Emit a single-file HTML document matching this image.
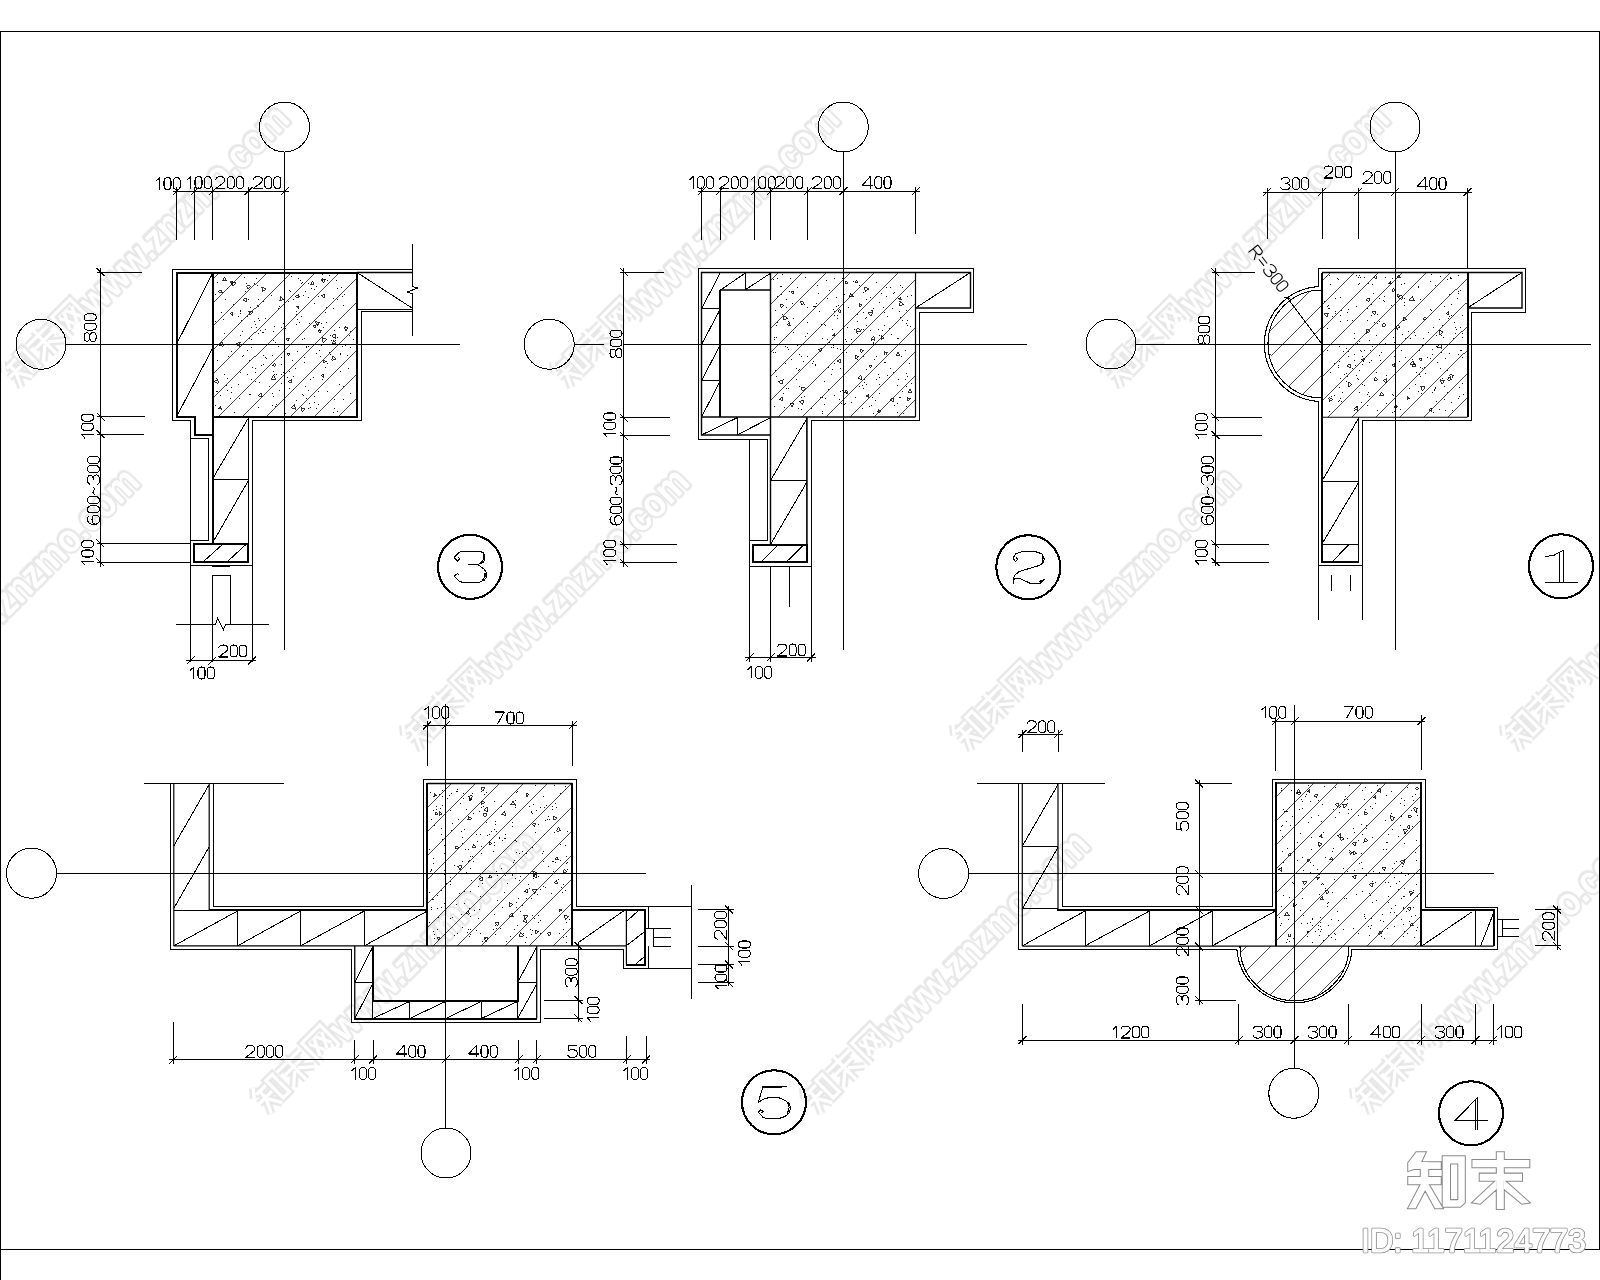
<!DOCTYPE html><html><head><meta charset="utf-8"><title>detail</title><style>html,body{margin:0;padding:0;background:#fff}svg{display:block}</style></head><body><svg width="1600" height="1280" viewBox="0 0 1600 1280">
<defs><path id="g48" d="M0 3.4C0 -1.13 7 -1.13 7 3.4L7 8.6C7 13.13 0 13.13 0 8.6Z"/><path id="g49" d="M0.3 3.6L4.3 0L4.3 12"/><path id="g50" d="M0.2 3.4C0.2 -1.1 9.3 -1.1 9.3 3.3C9.3 4.8 8.4 5.8 6.5 7.2L0 12L9.5 12"/><path id="g51" d="M0.3 2.6C1.3 -0.9 9.2 -0.9 9.2 3C9.2 4.9 7.5 5.8 4.5 5.8C7.8 5.8 9.6 7 9.6 8.9C9.6 13.1 0.8 13 0 9.6"/><path id="g52" d="M7.6 12L7.6 0L0 8.6L10.4 8.6"/><path id="g53" d="M8.8 0L1.2 0L0.5 5.4C3.5 3.3 9.6 4 9.6 8C9.6 13.2 1 13.2 0 9.6"/><path id="g54" d="M8.6 1.6C5.5 -1.8 0 0.6 0 6.4C0 14 9.4 13.5 9.4 8.2C9.4 3.4 1.2 3.4 0.1 8"/><path id="g55" d="M0 0L9.2 0L2.6 12"/><path id="g56" d="M4.75 5.6C-0.9 5.6 -0.9 0 4.75 0C10.4 0 10.4 5.6 4.75 5.6C-1.6 5.6 -1.6 12 4.75 12C11.1 12 11.1 5.6 4.75 5.6"/><path id="g126" d="M0 7.4C1.4 5.2 2.8 5.2 4 6.3C5.2 7.4 6.6 7.4 8 5.2"/><path id="g82" d="M0 12L0 0L5.5 0C10.2 0 10.2 6 5.5 6L0 6M5 6L9.5 12"/><path id="g61" d="M0 4L8.5 4M0 8L8.5 8"/></defs>
<defs><path id="zhi" d="M22 1L1.4 27M14 23.4L57 23.4M0 50L57 50M28.6 24L28.6 50L5.7 98.6M31.4 58.6L54.3 98.6M67 13.4L93.7 13.4L93.7 90L67 90Z"/><path id="mo" d="M0 20L100 20M12.9 43.7L87 43.7M49 0L49 100M43 55.7L4.3 88.6M55.7 55.7L95.7 88.6"/><path id="wang" d="M10 98L10 10L90 10L90 92L80 97M24 30L46 74M46 30L22 78M56 30L78 74M78 30L54 78"/></defs>
<rect width="1600" height="1280" fill="#fff"/>
<defs><filter id="soft" x="-5%" y="-50%" width="110%" height="200%"><feGaussianBlur stdDeviation="0.7"/></filter><g id="wm" opacity="0.999"><g filter="url(#soft)"><use href="#zhi" transform="translate(1.5 -30.1) scale(0.32)" fill="none" stroke="#e7e7e7" stroke-width="26" stroke-linejoin="miter"/><use href="#mo" transform="translate(36.5 -30.1) scale(0.32)" fill="none" stroke="#e7e7e7" stroke-width="26" stroke-linejoin="miter"/><use href="#wang" transform="translate(71.5 -30.1) scale(0.32)" fill="none" stroke="#e7e7e7" stroke-width="26" stroke-linejoin="miter"/><text x="105" y="4" font-family="Liberation Sans, sans-serif" font-weight="bold" font-size="40" fill="#e7e7e7" stroke="#e7e7e7" stroke-width="4.8" stroke-linejoin="round" textLength="278" lengthAdjust="spacingAndGlyphs">www.znzmo.com</text></g><use href="#zhi" transform="translate(1.5 -30.1) scale(0.32)" fill="none" stroke="#fff" stroke-width="10.5" stroke-linejoin="miter"/><use href="#mo" transform="translate(36.5 -30.1) scale(0.32)" fill="none" stroke="#fff" stroke-width="10.5" stroke-linejoin="miter"/><use href="#wang" transform="translate(71.5 -30.1) scale(0.32)" fill="none" stroke="#fff" stroke-width="10.5" stroke-linejoin="miter"/><text x="105" y="4" font-family="Liberation Sans, sans-serif" font-weight="bold" font-size="40" fill="#fff" textLength="278" lengthAdjust="spacingAndGlyphs">www.znzmo.com</text></g></defs>
<use href="#wm" transform="translate(18 389) rotate(-45)"/>
<use href="#wm" transform="translate(568 389) rotate(-45)"/>
<use href="#wm" transform="translate(1118 389) rotate(-45)"/>
<use href="#wm" transform="translate(-132 752) rotate(-45)"/>
<use href="#wm" transform="translate(418 752) rotate(-45)"/>
<use href="#wm" transform="translate(968 752) rotate(-45)"/>
<use href="#wm" transform="translate(1518 752) rotate(-45)"/>
<use href="#wm" transform="translate(268 1115) rotate(-45)"/>
<use href="#wm" transform="translate(818 1115) rotate(-45)"/>
<use href="#wm" transform="translate(1368 1115) rotate(-45)"/>
<g fill="none" stroke="#000" stroke-width="1" shape-rendering="crispEdges">
<path d="M0.5 1280L0.5 31.5L1599 31.5L1599 1249.5L0 1249.5" stroke-width="1"/>
<path d="M284.5 152L284.5 650" stroke-width="1"/>
<path d="M66 344.25L460 344.25" stroke-width="1"/>
<circle cx="284.5" cy="127" r="25" stroke-width="1"/>
<circle cx="41" cy="344.25" r="25" stroke-width="1"/>
<path d="M212.5 278.2L218.2 272.5M212.5 302.2L242.2 272.5M212.5 326.2L266.2 272.5M212.5 350.2L290.2 272.5M212.5 374.2L314.2 272.5M212.5 398.2L338.2 272.5M217.95 416.75L357 277.7M241.95 416.75L357 301.7M265.95 416.75L357 325.7M289.95 416.75L357 349.7M313.95 416.75L357 373.7M337.95 416.75L357 397.7" stroke-width="0.7"/>
<path d="M247 350.5h1M266 358.5h1M301 283.5h1M216 391.5h1M250 307.5h1M353 339.5h1M331 340.5h1M303 295.5h1M303 395.5h1M287 377.5h1M308 283.5h1M320 356.5h1M256 278.5h1M335 340.5h1M314 396.5h1M314 402.5h1M269 386.5h1M276 404.5h1M337 288.5h1M233 304.5h1M349 335.5h1M301 316.5h1M285 328.5h1M263 355.5h1M296 400.5h1M309 403.5h1M333 412.5h1M308 297.5h1M334 408.5h1M340 353.5h1M314 303.5h1M330 354.5h1M254 283.5h1M333 412.5h1M226 385.5h1M271 295.5h1M255 381.5h1M336 280.5h1M300 280.5h1M314 320.5h1M337 411.5h1M285 413.5h1M257 285.5h1M298 278.5h1M242 331.5h1M299 296.5h1M220 395.5h1M258 407.5h1M339 327.5h1M278 346.5h1M304 357.5h1M292 360.5h1M345 345.5h1M274 374.5h1M247 316.5h1M350 347.5h1M291 276.5h1M272 355.5h1M217 360.5h1M302 282.5h1M302 339.5h1M309 323.5h1M313 377.5h1M217 282.5h1M308 408.5h1M249 338.5h1M297 319.5h1M265 318.5h1M265 357.5h1M256 327.5h1M322 278.5h1M293 376.5h1M257 305.5h1M326 307.5h1M240 335.5h1M311 288.5h1M259 320.5h1M330 335.5h1M333 298.5h1M261 365.5h1M337 337.5h1M245 291.5h1M288 301.5h1M327 391.5h1M240 313.5h1M327 363.5h1M326 322.5h1M232 315.5h1M325 312.5h1M262 332.5h1M273 331.5h1M342 296.5h1M215 405.5h1M337 411.5h1M275 406.5h1M343 305.5h1M318 391.5h1M306 346.5h1M254 321.5h1M246 283.5h1M296 314.5h1M327 280.5h1M340 371.5h1M343 399.5h1M340 354.5h1M216 378.5h1M238 316.5h1M306 347.5h1M272 405.5h1M299 322.5h1M249 394.5h1M281 383.5h1M263 301.5h1M289 388.5h1M238 384.5h1M343 386.5h1M329 275.5h1M302 394.5h1M221 312.5h1M251 347.5h1M273 340.5h1M322 274.5h1M222 292.5h1M231 284.5h1M350 393.5h1M226 344.5h1M258 318.5h1M263 364.5h1M296 324.5h1M241 320.5h1M231 351.5h1M314 327.5h1M225 299.5h1M266 358.5h1M323 327.5h1M326 361.5h1M274 326.5h1M283 372.5h1M273 371.5h1M278 308.5h1M289 371.5h1M224 333.5h1M273 396.5h1M345 326.5h1M339 384.5h1M251 339.5h1M231 387.5h1M306 398.5h1M325 367.5h1M316 353.5h1M228 356.5h1M215 294.5h1M322 280.5h1M227 288.5h1M337 299.5h1M217 391.5h1M231 392.5h1M308 390.5h1M347 355.5h1M325 279.5h1M321 345.5h1M314 289.5h1M318 404.5h1M223 319.5h1M293 389.5h1M248 299.5h1M249 360.5h1M319 329.5h1M265 329.5h1M263 332.5h1M226 344.5h1M350 331.5h1M318 296.5h1M310 379.5h1M308 346.5h1M281 364.5h1M339 295.5h1M227 378.5h1M342 346.5h1M276 374.5h1M240 311.5h1M242 356.5h1M258 306.5h1M310 407.5h1M255 372.5h1M272 393.5h1M296 311.5h1M244 277.5h1M281 327.5h1M238 324.5h1M259 382.5h1M234 412.5h1M281 357.5h1M279 390.5h1M329 352.5h1M281 374.5h1M334 330.5h1M316 408.5h1M279 306.5h1M247 374.5h1M308 408.5h1M333 308.5h1M240 310.5h1M240 372.5h1M334 399.5h1M250 394.5h1M258 333.5h1M316 286.5h1M227 390.5h1M255 324.5h1M295 368.5h1M215 321.5h1M275 342.5h1M243 355.5h1M347 328.5h1M290 291.5h1M252 367.5h1M230 398.5h1M341 287.5h1M345 326.5h1M322 379.5h1M255 368.5h1M305 386.5h1M251 379.5h1M348 368.5h1M289 290.5h1M283 323.5h1M314 368.5h1M293 299.5h1M304 362.5h1M239 398.5h1M305 291.5h1M344 294.5h1M260 374.5h1M297 351.5h1M304 338.5h1M258 299.5h1M224 374.5h1M319 350.5h1M317 324.5h1M251 327.5h1M336 280.5h1M284 308.5h1M321 323.5h1M260 330.5h1" stroke-width="1" stroke="#111" shape-rendering="crispEdges"/>
<path d="M291.57 379.98L291.28 383.47L288.4 381.48ZM233.11 314.47L230.18 313.93L232.12 311.66ZM323.51 377.28L321.03 375.34L323.95 374.16ZM273.35 375.2L275.62 379.04L271.15 379.09ZM298.02 298.41L295.25 296.11L298.62 294.86ZM288.52 355.78L286.92 353.02L290.11 353.02ZM325.18 278.97L323.61 283.13L320.8 279.7ZM344.12 327.58L348.04 327.56L346.09 330.97ZM302.25 411.92L301.36 407.82L305.36 409.1ZM333.55 340.16L336.05 343.31L332.07 343.9ZM214.43 381.6L217.91 379.34L218.13 383.48ZM286.18 338.91L289.17 337.85L288.59 340.97ZM219.33 345.5L221.96 342.35L223.38 346.21ZM295.52 409.18L291.14 407.69L294.62 404.64ZM323.6 362.7L324.08 359.87L326.3 361.69ZM250.39 286.14L248.18 289.34L246.51 285.83ZM262.22 396.93L258.22 395.6L261.37 392.8ZM333.07 355.75L336.24 359.22L331.65 360.23ZM319.8 322.24L317.24 325.87L315.37 321.83ZM331.59 336.28L335.13 333.76L335.55 338.09ZM231.92 283.93L229.74 281.96L232.53 281.06ZM236.08 343.67L240.13 342.46L239.15 346.57ZM272.2 365.4L274.7 363.08L275.46 366.4ZM321.31 330.12L320.05 333L318.18 330.47ZM312.73 326.12L316.06 324.94L315.42 328.42ZM298.33 308.55L296.37 306.58L299.06 305.87ZM324.13 298.07L321.29 295.67L324.79 294.41ZM246.09 301.58L242.98 299.75L246.13 297.97ZM218.45 291.61L221.05 289.88L221.25 293ZM222.86 280.73L224.53 277.42L226.56 280.52ZM310.86 284.73L312.25 281.4L314.44 284.27ZM221.69 409.09L218.47 408.87L220.27 406.19ZM279.95 300.88L280.27 296.83L283.62 299.14ZM233.03 286.01L231.5 282.02L235.73 282.68ZM323.19 342.5L322.22 337.89L326.7 339.35ZM248.84 310.85L253.13 312.11L249.9 315.19ZM265.93 288.8L262.78 291.56L261.96 287.45Z" stroke-width="0.8"/>
<path d="M212.5 272.5L357 272.5L357 416.75L212.5 416.75Z" stroke-width="2"/>
<path d="M357 272.5L176.5 272.5L176.5 416.75L194.5 416.75L194.5 434.5L212.5 434.5" stroke-width="2"/>
<path d="M212.5 416L212.5 543.5" stroke-width="2"/>
<path d="M357 272.5L412 272.5" stroke-width="1.5" shape-rendering="geometricPrecision"/>
<path d="M412 269L172.5 269L172.5 420.5L190.5 420.5L190.5 662" stroke-width="1"/>
<path d="M190.5 438.5L208.5 438.5L208.5 540.5L190.5 540.5" stroke-width="1"/>
<path d="M357 309.25L412 309.25" stroke-width="1"/>
<path d="M412 311.75L361.5 311.75L361.5 420.5L252 420.5L252 662" stroke-width="1"/>
<path d="M358.5 273.5L412 308" stroke-width="1"/>
<path d="M412 243.75L412 286.25L417.5 288L407.5 292L412 293.75L412 336.25" stroke-width="1"/>
<path d="M176.5 344.25L212.5 273.5" stroke-width="1"/>
<path d="M176.5 416.75L212.5 348.5" stroke-width="1"/>
<path d="M248.4 416.75L248.4 543.5" stroke-width="1"/>
<path d="M212.5 479L248.4 418" stroke-width="1"/>
<path d="M212.5 479L248.4 479" stroke-width="1"/>
<path d="M212.5 543L248.4 480.5" stroke-width="1"/>
<path d="M193.5 543.5L248.4 543.5L248.4 562.4L193.5 562.4Z" stroke-width="2"/>
<path d="M202.5 562.4L223.5 543.5" stroke-width="1"/>
<path d="M226.5 562.4L246 544.4" stroke-width="1"/>
<path d="M190.5 565.4L252 565.4" stroke-width="1"/>
<path d="M212 566.2L230 566.2" stroke-width="1.6" shape-rendering="geometricPrecision"/>
<path d="M212.4 662L212.4 575.6L230.4 575.6L230.4 624.5" stroke-width="1"/>
<path d="M175.5 624.5L215.4 624.5L217.5 618.5L223.5 629.6L225.6 624.5L268.5 624.5" stroke-width="1"/>
<path d="M186 660.5L256 660.5" stroke-width="1"/>
<path d="M186.5 664.5L194.5 656.5" stroke-width="1"/>
<path d="M208.4 664.5L216.4 656.5" stroke-width="1"/>
<path d="M248 664.5L256 656.5" stroke-width="1"/>
<g transform="translate(218.6 657)" stroke-width="1.05" stroke-linejoin="round"><use href="#g50" x="0" y="-12"/><use href="#g48" x="11.6" y="-12"/><use href="#g48" x="20.8" y="-12"/></g>
<g transform="translate(189.6 679)" stroke-width="1.05" stroke-linejoin="round"><use href="#g49" x="0" y="-12"/><use href="#g48" x="8.4" y="-12"/><use href="#g48" x="17.6" y="-12"/></g>
<path d="M172.5 191.25L288.5 191.25" stroke-width="1"/>
<path d="M172.5 195.25L180.5 187.25" stroke-width="1"/>
<path d="M176.5 186.5L176.5 239.5" stroke-width="1"/>
<path d="M190.5 195.25L198.5 187.25" stroke-width="1"/>
<path d="M194.5 186.5L194.5 239.5" stroke-width="1"/>
<path d="M208.5 195.25L216.5 187.25" stroke-width="1"/>
<path d="M212.5 186.5L212.5 239.5" stroke-width="1"/>
<path d="M244.25 195.25L252.25 187.25" stroke-width="1"/>
<path d="M248.25 186.5L248.25 239.5" stroke-width="1"/>
<path d="M280.5 195.25L288.5 187.25" stroke-width="1"/>
<g transform="translate(155.6 189.6)" stroke-width="1.05" stroke-linejoin="round"><use href="#g49" x="0" y="-12"/><use href="#g48" x="8.4" y="-12"/><use href="#g48" x="17.6" y="-12"/></g>
<g transform="translate(186.6 188.6)" stroke-width="1.05" stroke-linejoin="round"><use href="#g49" x="0" y="-12"/><use href="#g48" x="8.4" y="-12"/><use href="#g48" x="17.6" y="-12"/></g>
<g transform="translate(215.6 188.6)" stroke-width="1.05" stroke-linejoin="round"><use href="#g50" x="0" y="-12"/><use href="#g48" x="11.6" y="-12"/><use href="#g48" x="20.8" y="-12"/></g>
<g transform="translate(253.1 188.6)" stroke-width="1.05" stroke-linejoin="round"><use href="#g50" x="0" y="-12"/><use href="#g48" x="11.6" y="-12"/><use href="#g48" x="20.8" y="-12"/></g>
<path d="M100.5 267.5L100.5 566.5" stroke-width="1"/>
<path d="M96.5 268L104.5 276" stroke-width="1"/>
<path d="M96.5 272L141.7 272" stroke-width="1"/>
<path d="M96.5 412.6L104.5 420.6" stroke-width="1"/>
<path d="M96.5 416.6L144.8 416.6" stroke-width="1"/>
<path d="M96.5 430.2L104.5 438.2" stroke-width="1"/>
<path d="M96.5 434.2L144 434.2" stroke-width="1"/>
<path d="M96.5 539.4L104.5 547.4" stroke-width="1"/>
<path d="M96.5 543.4L190.5 543.4" stroke-width="1"/>
<path d="M96.5 558.4L104.5 566.4" stroke-width="1"/>
<path d="M96.5 562.4L190.5 562.4" stroke-width="1"/>
<g transform="translate(96.2 341.8) rotate(-90)" stroke-width="1.05" stroke-linejoin="round"><use href="#g56" x="0" y="-12"/><use href="#g48" x="11.7" y="-12"/><use href="#g48" x="20.9" y="-12"/></g>
<g transform="translate(93.5 438.7) rotate(-90)" stroke-width="1.05" stroke-linejoin="round"><use href="#g49" x="0" y="-12"/><use href="#g48" x="8.4" y="-12"/><use href="#g48" x="17.6" y="-12"/></g>
<g transform="translate(99.4 524.5) rotate(-90)" stroke-width="1.05" stroke-linejoin="round"><use href="#g54" x="0" y="-12"/><use href="#g48" x="11.6" y="-12"/><use href="#g48" x="20.8" y="-12"/><use href="#g126" x="30" y="-12"/><use href="#g51" x="40" y="-12"/><use href="#g48" x="51.8" y="-12"/><use href="#g48" x="61" y="-12"/></g>
<g transform="translate(93.5 565.4) rotate(-90)" stroke-width="1.05" stroke-linejoin="round"><use href="#g49" x="0" y="-12"/><use href="#g48" x="8.4" y="-12"/><use href="#g48" x="17.6" y="-12"/></g>
<circle cx="470" cy="566.9" r="32" stroke-width="2.1"/>
<g transform="translate(430 525) scale(0.0625)" stroke-width="17"><path d="M470 805L440 780L385 815L465 900L530 920L780 920L870 880L908 830L908 770L870 710L765 630L850 600L878 560L878 490L850 440L780 418L530 418L465 435L385 525L440 575L475 540L455 515"/><path d="M610 630L765 630M850 465L850 560L810 608M880 760L880 830L830 892"/></g>
<path d="M843.25 152L843.25 649.5" stroke-width="1"/>
<path d="M574.25 344.5L603.75 344.5" stroke-width="1"/>
<path d="M623.75 344.5L1027 344.5" stroke-width="1"/>
<circle cx="843.25" cy="127" r="25" stroke-width="1"/>
<circle cx="549.25" cy="344.25" r="25" stroke-width="1"/>
<path d="M770.5 279.5L777.5 272.5M770.5 303.5L801.5 272.5M770.5 327.5L825.5 272.5M770.5 351.5L849.5 272.5M770.5 375.5L873.5 272.5M770.5 399.5L897.5 272.5M777 417L915.5 278.5M801 417L915.5 302.5M825 417L915.5 326.5M849 417L915.5 350.5M873 417L915.5 374.5M897 417L915.5 398.5" stroke-width="0.7"/>
<path d="M906 406.5h1M780 286.5h1M889 377.5h1M866 317.5h1M857 359.5h1M853 296.5h1M832 329.5h1M873 413.5h1M905 350.5h1M834 311.5h1M777 278.5h1M837 318.5h1M825 398.5h1M846 352.5h1M805 277.5h1M818 293.5h1M843 413.5h1M866 299.5h1M897 385.5h1M875 400.5h1M879 384.5h1M822 411.5h1M907 296.5h1M878 374.5h1M837 348.5h1M841 403.5h1M842 390.5h1M822 397.5h1M898 338.5h1M851 402.5h1M873 342.5h1M803 319.5h1M870 297.5h1M899 311.5h1M900 317.5h1M906 373.5h1M843 346.5h1M863 356.5h1M816 303.5h1M844 404.5h1M859 285.5h1M887 375.5h1M899 301.5h1M876 282.5h1M863 312.5h1M804 396.5h1M787 347.5h1M892 308.5h1M801 397.5h1M831 374.5h1M776 325.5h1M796 368.5h1M784 407.5h1M776 376.5h1M775 310.5h1M886 296.5h1M798 370.5h1M826 280.5h1M911 295.5h1M777 322.5h1M858 378.5h1M788 321.5h1M776 337.5h1M879 377.5h1M898 379.5h1M893 372.5h1M838 305.5h1M865 318.5h1M786 336.5h1M894 292.5h1M854 329.5h1M844 294.5h1M906 310.5h1M857 333.5h1M775 352.5h1M792 282.5h1M777 296.5h1M785 363.5h1M843 411.5h1M903 413.5h1M805 336.5h1M807 356.5h1M859 386.5h1M871 310.5h1M831 347.5h1M773 279.5h1M829 290.5h1M873 308.5h1M786 299.5h1M804 304.5h1M845 339.5h1M815 364.5h1M802 400.5h1M907 376.5h1M833 345.5h1M853 281.5h1M831 347.5h1M797 287.5h1M884 325.5h1M845 403.5h1M857 314.5h1M910 326.5h1M775 370.5h1M786 317.5h1M890 368.5h1M774 337.5h1M829 342.5h1M801 356.5h1M782 314.5h1M824 404.5h1M783 379.5h1M799 354.5h1M827 339.5h1M878 329.5h1M789 291.5h1M783 393.5h1M862 408.5h1M869 277.5h1M864 382.5h1M873 343.5h1M822 338.5h1M884 312.5h1M846 341.5h1M906 386.5h1M902 391.5h1M814 306.5h1M840 310.5h1M832 369.5h1M901 356.5h1M886 287.5h1M822 413.5h1M793 332.5h1M781 286.5h1M897 412.5h1M863 292.5h1M813 306.5h1M866 369.5h1M833 347.5h1M788 349.5h1M905 379.5h1M785 346.5h1M872 310.5h1M897 338.5h1M870 330.5h1M911 383.5h1M852 294.5h1M834 278.5h1M855 397.5h1M797 345.5h1M840 330.5h1M871 405.5h1M871 340.5h1M907 320.5h1M876 366.5h1M879 393.5h1M803 361.5h1M828 367.5h1M909 363.5h1M774 339.5h1M872 397.5h1M863 388.5h1M774 406.5h1M874 359.5h1M899 397.5h1M786 388.5h1M879 302.5h1M876 356.5h1M799 386.5h1M791 359.5h1M833 309.5h1M851 339.5h1M801 409.5h1M782 274.5h1M840 391.5h1M864 379.5h1M840 368.5h1M819 311.5h1M842 278.5h1M783 379.5h1M796 379.5h1M882 330.5h1M866 384.5h1M893 293.5h1M795 327.5h1M837 315.5h1M773 352.5h1M907 325.5h1M847 327.5h1M834 395.5h1M815 365.5h1M840 349.5h1M900 285.5h1M887 316.5h1M862 385.5h1M863 329.5h1M890 287.5h1M861 329.5h1M846 393.5h1M884 362.5h1M815 306.5h1M836 306.5h1M811 408.5h1M788 388.5h1M825 325.5h1M817 285.5h1M836 297.5h1M834 315.5h1M897 403.5h1M834 363.5h1M902 320.5h1M786 307.5h1M799 369.5h1M824 324.5h1M883 307.5h1M885 362.5h1M828 389.5h1M820 397.5h1M902 344.5h1M869 406.5h1M876 379.5h1M894 405.5h1M877 411.5h1M813 361.5h1M866 325.5h1M827 298.5h1M906 323.5h1M839 399.5h1M798 408.5h1M790 278.5h1M821 324.5h1M900 397.5h1M879 335.5h1M848 307.5h1M889 328.5h1M812 363.5h1M793 318.5h1M902 287.5h1M792 303.5h1M807 333.5h1M807 322.5h1M807 307.5h1M857 321.5h1M824 381.5h1M781 294.5h1M891 334.5h1M881 293.5h1" stroke-width="1" stroke="#111" shape-rendering="crispEdges"/>
<path d="M846.37 389.9L847.76 393.08L844.31 392.7ZM855.94 332.11L857.69 327.6L860.73 331.37ZM840.44 359.37L840.36 362.8L837.43 361.01ZM858.6 356.54L855.44 358.81L855.05 354.94ZM908.16 392.4L909.91 389.12L911.88 392.28ZM848.12 282.74L845.58 284.33L845.48 281.33ZM794.14 403.22L792.1 406.87L789.96 403.27ZM787.65 318.39L783.7 320.38L783.94 315.96ZM790.11 325.8L787.22 324.59L789.72 322.7ZM864.62 286.82L869.01 288.74L865.15 291.58ZM779.44 399.4L782.06 397.44L782.45 400.69ZM853.1 296.24L849.32 296.79L850.73 293.24ZM799.29 401.52L803.44 399.85L802.81 404.29ZM866.15 396.1L868.72 394.43L868.88 397.49ZM792.96 294.09L790.89 291.92L793.8 291.21ZM780.31 304.45L783.76 305.31L781.29 307.87ZM889.67 399.82L893.45 397.84L893.27 402.1ZM900.84 297.18L901.14 300.15L898.41 298.92ZM859.82 307.17L859.02 303.71L862.42 304.74ZM834.14 332.9L834.94 336.41L831.5 335.35ZM885.21 355.39L884.07 351.82L887.74 352.62ZM878.8 409.42L881.18 411.63L878.08 412.58ZM868.72 365.83L871.5 365.26L870.6 367.95ZM800.77 301.22L804.45 302.71L801.31 305.16ZM857.77 378.19L861.06 375.53L861.72 379.71ZM782.37 379.68L782.32 384.16L778.46 381.88ZM857.87 282.86L854.73 282.37L856.72 279.9ZM863.36 350.29L861.17 352.56L860.3 349.53ZM907.92 401.33L906.96 397.73L910.57 398.69ZM802.7 391.4L801.24 387.43L805.4 388.15ZM896.33 355.22L898.12 352.06L899.96 355.19ZM874.93 340.31L870.91 339.32L873.78 336.34ZM871.32 316.29L868.14 312.87L872.69 311.83ZM818.11 349.61L821.46 348.33L820.89 351.87ZM900.18 301.59L903.55 304.37L899.46 305.91ZM881 339.38L881.29 335.67L884.35 337.77ZM837.53 311.53L840 309.55L840.48 312.68Z" stroke-width="0.8"/>
<path d="M749.5 540L767.5 540L767.5 439.25L698.5 439.25L698.5 268.5L973.5 268.5L973.5 312L919.5 312L919.5 420.5L811 420.5L811 662" stroke-width="1"/>
<path d="M915.5 308L970.5 308L970.5 272.5L701.5 272.5L701.5 435L770.5 435" stroke-width="1.4" shape-rendering="geometricPrecision"/>
<path d="M770.5 272.5L770.5 544.5" stroke-width="1.4" shape-rendering="geometricPrecision"/>
<path d="M915.5 272.5L915.5 417" stroke-width="1.2" shape-rendering="geometricPrecision"/>
<path d="M701.5 417L915.5 417" stroke-width="1.3" shape-rendering="geometricPrecision"/>
<path d="M720 290L720 417" stroke-width="2"/>
<path d="M701.5 308.75L720 308.75" stroke-width="1"/>
<path d="M701.5 380.5L720 380.5" stroke-width="1"/>
<path d="M701.5 308.75L720 273.5" stroke-width="1"/>
<path d="M701.5 344.5L720 309.75" stroke-width="1"/>
<path d="M701.5 380.5L720 345.5" stroke-width="1"/>
<path d="M701.5 417L720 381.5" stroke-width="1"/>
<path d="M720 290L770.5 290" stroke-width="1.5" shape-rendering="geometricPrecision"/>
<path d="M745 272.5L745 290" stroke-width="1"/>
<path d="M720.5 290L745 273.3" stroke-width="1"/>
<path d="M745 290L770.5 273.3" stroke-width="1"/>
<path d="M737 417L737 435" stroke-width="1"/>
<path d="M701.5 435L737 417.8" stroke-width="1"/>
<path d="M737 435L770.5 417.8" stroke-width="1"/>
<path d="M915.5 308L970.5 272.5" stroke-width="1"/>
<path d="M806.9 417L806.9 544.5" stroke-width="1.6" shape-rendering="geometricPrecision"/>
<path d="M770.5 480.5L806.9 418.5" stroke-width="1"/>
<path d="M770.5 480.5L806.9 480.5" stroke-width="1"/>
<path d="M770.5 544.5L806.9 482" stroke-width="1"/>
<path d="M749.5 439.25L749.5 662" stroke-width="1"/>
<path d="M752.5 544.5L806.9 544.5L806.9 562L752.5 562Z" stroke-width="2"/>
<path d="M761.25 562L778.75 544.5" stroke-width="1"/>
<path d="M786.25 562L803.25 545.5" stroke-width="1"/>
<path d="M749.5 566.25L811 566.25" stroke-width="1"/>
<path d="M770.5 566.25L770.5 662" stroke-width="1"/>
<path d="M789.25 567L789.25 607" stroke-width="1"/>
<path d="M745 657.5L816 657.5" stroke-width="1"/>
<path d="M745.5 661.5L753.5 653.5" stroke-width="1"/>
<path d="M766.5 661.5L774.5 653.5" stroke-width="1"/>
<path d="M807 661.5L815 653.5" stroke-width="1"/>
<g transform="translate(777.5 656)" stroke-width="1.05" stroke-linejoin="round"><use href="#g50" x="0" y="-12"/><use href="#g48" x="11.6" y="-12"/><use href="#g48" x="20.8" y="-12"/></g>
<g transform="translate(747 678.4)" stroke-width="1.05" stroke-linejoin="round"><use href="#g49" x="0" y="-12"/><use href="#g48" x="8.4" y="-12"/><use href="#g48" x="17.6" y="-12"/></g>
<path d="M697.5 191.25L919.5 191.25" stroke-width="1"/>
<path d="M697.5 195.25L705.5 187.25" stroke-width="1"/>
<path d="M701.5 186.5L701.5 239.5" stroke-width="1"/>
<path d="M716 195.25L724 187.25" stroke-width="1"/>
<path d="M720 186.5L720 239.5" stroke-width="1"/>
<path d="M750.5 195.25L758.5 187.25" stroke-width="1"/>
<path d="M754.5 186.5L754.5 239.5" stroke-width="1"/>
<path d="M766.5 195.25L774.5 187.25" stroke-width="1"/>
<path d="M770.5 186.5L770.5 239.5" stroke-width="1"/>
<path d="M803.5 195.25L811.5 187.25" stroke-width="1"/>
<path d="M807.5 186.5L807.5 239.5" stroke-width="1"/>
<path d="M839.25 195.25L847.25 187.25" stroke-width="1"/>
<path d="M911.5 195.25L919.5 187.25" stroke-width="1"/>
<path d="M915.5 186.5L915.5 233.75" stroke-width="1"/>
<g transform="translate(688.75 188.6)" stroke-width="1.05" stroke-linejoin="round"><use href="#g49" x="0" y="-12"/><use href="#g48" x="8.4" y="-12"/><use href="#g48" x="17.6" y="-12"/></g>
<g transform="translate(719.5 188.6)" stroke-width="1.05" stroke-linejoin="round"><use href="#g50" x="0" y="-12"/><use href="#g48" x="11.6" y="-12"/><use href="#g48" x="20.8" y="-12"/></g>
<g transform="translate(750.5 188.6)" stroke-width="1.05" stroke-linejoin="round"><use href="#g49" x="0" y="-12"/><use href="#g48" x="8.4" y="-12"/><use href="#g48" x="17.6" y="-12"/></g>
<g transform="translate(775 188.6)" stroke-width="1.05" stroke-linejoin="round"><use href="#g50" x="0" y="-12"/><use href="#g48" x="11.6" y="-12"/><use href="#g48" x="20.8" y="-12"/></g>
<g transform="translate(812.5 188.6)" stroke-width="1.05" stroke-linejoin="round"><use href="#g50" x="0" y="-12"/><use href="#g48" x="11.6" y="-12"/><use href="#g48" x="20.8" y="-12"/></g>
<g transform="translate(862.5 188.6)" stroke-width="1.05" stroke-linejoin="round"><use href="#g52" x="0" y="-12"/><use href="#g48" x="12.3" y="-12"/><use href="#g48" x="21.5" y="-12"/></g>
<path d="M623.75 268L623.75 566.5" stroke-width="1"/>
<path d="M619.75 268L627.75 276" stroke-width="1"/>
<path d="M619.75 272L663.75 272" stroke-width="1"/>
<path d="M619.75 413.5L627.75 421.5" stroke-width="1"/>
<path d="M619.75 417.5L670 417.5" stroke-width="1"/>
<path d="M619.75 431.5L627.75 439.5" stroke-width="1"/>
<path d="M619.75 435.5L670 435.5" stroke-width="1"/>
<path d="M619.75 540.5L627.75 548.5" stroke-width="1"/>
<path d="M619.75 544.5L677 544.5" stroke-width="1"/>
<path d="M619.75 558.5L627.75 566.5" stroke-width="1"/>
<path d="M619.75 562.5L677 562.5" stroke-width="1"/>
<g transform="translate(622 358) rotate(-90)" stroke-width="1.05" stroke-linejoin="round"><use href="#g56" x="0" y="-12"/><use href="#g48" x="11.7" y="-12"/><use href="#g48" x="20.9" y="-12"/></g>
<g transform="translate(615.75 437.6) rotate(-90)" stroke-width="1.05" stroke-linejoin="round"><use href="#g49" x="0" y="-12"/><use href="#g48" x="8.4" y="-12"/><use href="#g48" x="17.6" y="-12"/></g>
<g transform="translate(622 525) rotate(-90)" stroke-width="1.05" stroke-linejoin="round"><use href="#g54" x="0" y="-12"/><use href="#g48" x="11.6" y="-12"/><use href="#g48" x="20.8" y="-12"/><use href="#g126" x="30" y="-12"/><use href="#g51" x="40" y="-12"/><use href="#g48" x="51.8" y="-12"/><use href="#g48" x="61" y="-12"/></g>
<g transform="translate(615.75 565) rotate(-90)" stroke-width="1.05" stroke-linejoin="round"><use href="#g49" x="0" y="-12"/><use href="#g48" x="8.4" y="-12"/><use href="#g48" x="17.6" y="-12"/></g>
<circle cx="1028.3" cy="567.2" r="32" stroke-width="2.1"/>
<g transform="translate(988 525) scale(0.0625)" stroke-width="17"><path d="M440 585L400 530L440 465L560 420L740 420L860 460L905 540L880 610L810 650L500 745L430 800L405 860L405 940M405 865L520 860L680 935L830 935L905 870L850 890L820 912"/><path d="M440 585L475 548L440 505M865 470L882 540L860 622"/></g>
<path d="M1395 152L1395 649.8" stroke-width="1"/>
<path d="M1136 344L1591 344" stroke-width="1"/>
<circle cx="1395" cy="127" r="25" stroke-width="1"/>
<circle cx="1111" cy="344" r="25" stroke-width="1"/>
<path d="M1322 279.5L1329 272.5M1322 303.5L1353 272.5M1322 327.5L1377 272.5M1322 351.5L1401 272.5M1322 375.5L1425 272.5M1322 399.5L1449 272.5M1328.2 417.3L1467.5 278M1352.2 417.3L1467.5 302M1376.2 417.3L1467.5 326M1400.2 417.3L1467.5 350M1424.2 417.3L1467.5 374M1448.2 417.3L1467.5 398" stroke-width="0.7"/>
<path d="M1342 392.5h1M1431 310.5h1M1393 337.5h1M1415 384.5h1M1337 278.5h1M1441 335.5h1M1431 274.5h1M1386 375.5h1M1356 406.5h1M1450 278.5h1M1327 350.5h1M1455 327.5h1M1354 333.5h1M1328 305.5h1M1385 343.5h1M1356 306.5h1M1354 338.5h1M1364 277.5h1M1441 352.5h1M1414 300.5h1M1463 394.5h1M1340 321.5h1M1425 373.5h1M1455 333.5h1M1440 368.5h1M1366 356.5h1M1447 392.5h1M1394 356.5h1M1328 308.5h1M1436 332.5h1M1348 351.5h1M1422 368.5h1M1376 335.5h1M1395 383.5h1M1397 329.5h1M1392 278.5h1M1330 372.5h1M1462 357.5h1M1379 298.5h1M1394 411.5h1M1432 349.5h1M1444 306.5h1M1396 407.5h1M1405 338.5h1M1361 351.5h1M1458 275.5h1M1434 389.5h1M1448 378.5h1M1437 347.5h1M1402 334.5h1M1331 396.5h1M1404 302.5h1M1394 342.5h1M1374 322.5h1M1399 361.5h1M1410 338.5h1M1327 306.5h1M1348 356.5h1M1444 386.5h1M1435 388.5h1M1359 392.5h1M1418 286.5h1M1326 276.5h1M1430 309.5h1M1339 361.5h1M1372 284.5h1M1346 348.5h1M1347 312.5h1M1423 338.5h1M1369 340.5h1M1327 328.5h1M1383 300.5h1M1339 400.5h1M1395 303.5h1M1409 388.5h1M1326 276.5h1M1344 374.5h1M1346 373.5h1M1419 350.5h1M1354 410.5h1M1436 346.5h1M1355 365.5h1M1379 355.5h1M1369 362.5h1M1332 316.5h1M1459 396.5h1M1367 394.5h1M1367 405.5h1M1428 332.5h1M1359 275.5h1M1447 279.5h1M1439 409.5h1M1404 298.5h1M1445 410.5h1M1422 345.5h1M1377 323.5h1M1352 368.5h1M1384 301.5h1M1338 367.5h1M1365 344.5h1M1369 396.5h1M1450 277.5h1M1352 320.5h1M1462 383.5h1M1371 304.5h1M1418 391.5h1M1454 322.5h1M1447 370.5h1M1392 412.5h1M1356 375.5h1M1335 298.5h1M1451 304.5h1M1430 358.5h1M1442 325.5h1M1371 315.5h1M1445 358.5h1M1458 398.5h1M1343 351.5h1M1338 279.5h1M1334 395.5h1M1434 390.5h1M1371 360.5h1M1433 327.5h1M1404 305.5h1M1335 311.5h1M1449 353.5h1M1453 338.5h1M1362 384.5h1M1440 276.5h1M1418 287.5h1M1340 398.5h1M1329 308.5h1M1462 333.5h1M1340 297.5h1M1357 378.5h1M1338 401.5h1M1377 410.5h1M1451 315.5h1M1359 341.5h1M1338 365.5h1M1329 275.5h1M1462 315.5h1M1407 337.5h1M1368 283.5h1M1452 410.5h1M1460 290.5h1M1354 360.5h1M1461 350.5h1M1420 367.5h1M1360 350.5h1M1367 308.5h1M1335 313.5h1M1462 337.5h1M1415 364.5h1M1456 329.5h1M1367 320.5h1M1368 392.5h1M1449 316.5h1M1370 350.5h1M1405 357.5h1M1358 277.5h1M1358 284.5h1M1401 284.5h1M1334 363.5h1M1364 385.5h1M1393 395.5h1M1345 344.5h1M1435 285.5h1M1457 298.5h1M1433 412.5h1M1439 319.5h1M1339 346.5h1M1453 315.5h1M1449 294.5h1M1451 278.5h1M1368 400.5h1M1436 401.5h1M1442 378.5h1M1420 299.5h1M1384 296.5h1M1424 367.5h1M1359 283.5h1M1459 387.5h1M1401 350.5h1M1443 337.5h1M1379 321.5h1M1360 277.5h1M1414 332.5h1M1404 283.5h1M1373 293.5h1M1341 310.5h1M1440 330.5h1M1380 360.5h1M1356 275.5h1M1398 344.5h1M1415 335.5h1M1420 376.5h1M1357 343.5h1M1391 305.5h1M1381 352.5h1M1451 402.5h1M1362 364.5h1M1330 284.5h1M1395 397.5h1M1346 381.5h1M1448 318.5h1M1421 393.5h1M1376 372.5h1M1427 357.5h1M1444 399.5h1M1458 354.5h1M1348 309.5h1M1354 354.5h1M1430 281.5h1M1419 374.5h1M1372 346.5h1M1347 376.5h1M1329 411.5h1M1437 362.5h1M1361 402.5h1M1458 293.5h1M1432 392.5h1M1416 372.5h1M1386 403.5h1M1460 327.5h1M1436 335.5h1M1347 320.5h1M1341 401.5h1M1458 291.5h1M1408 331.5h1M1340 315.5h1M1358 379.5h1M1324 301.5h1M1385 277.5h1M1412 359.5h1M1441 303.5h1M1364 350.5h1M1362 356.5h1M1359 370.5h1M1435 387.5h1M1460 350.5h1M1392 394.5h1M1432 354.5h1M1377 314.5h1M1339 387.5h1M1340 378.5h1M1400 409.5h1" stroke-width="1" stroke="#111" shape-rendering="crispEdges"/>
<path d="M1428.88 409.68L1431.53 408.15L1431.53 411.21ZM1403.36 320.81L1403.92 317.03L1406.91 319.4ZM1396.63 277.28L1399.09 274.53L1400.24 278.03ZM1366.87 328.82L1370.44 331.4L1366.42 333.2ZM1394.28 367.07L1391.69 364.63L1395.1 363.61ZM1328.23 312.9L1327.05 316.74L1324.32 313.79ZM1437.34 347.07L1440.82 343.72L1441.98 348.4ZM1443.24 332.24L1439.69 334.7L1439.34 330.4ZM1365.68 299.35L1369.52 298.03L1368.75 302.02ZM1373.57 277.91L1375.54 274.92L1377.15 278.11ZM1381.48 392.03L1383.82 395.26L1379.86 395.67ZM1449.4 376.74L1451.39 379.97L1447.6 380.08ZM1412.09 366.55L1413.9 362.9L1416.16 366.3ZM1413.07 360.53L1414.56 365L1409.94 364.06ZM1440.33 379.91L1444.75 380.52L1442.01 384.05ZM1375.77 310.95L1374.71 315.05L1371.68 312.09ZM1398.25 297.56L1401.9 294.93L1402.35 299.41ZM1390.15 280.5L1392.18 283.75L1388.35 283.88ZM1386.48 325.38L1382.67 326.99L1383.18 322.89ZM1393.75 407.34L1395.51 403.51L1397.94 406.94ZM1421.21 361.05L1418.93 358.79L1422.03 357.95ZM1448.64 311.83L1448.7 314.76L1446.14 313.34ZM1397.75 324.67L1399.95 327.81L1396.13 328.14ZM1350.15 363.58L1350.65 367.81L1346.74 366.13ZM1361.35 359.2L1364.57 358.74L1363.36 361.76ZM1348.44 386.86L1348.32 382.29L1352.34 384.47ZM1357.92 406.31L1357.66 410.54L1354.13 408.19ZM1329.25 401.68L1328.81 397.64L1332.53 399.29ZM1386.31 383.05L1382.85 380.32L1386.94 378.69ZM1409.47 300.12L1412.52 296.43L1414.19 300.92ZM1451.38 378.45L1449.63 374.81L1453.65 375.11ZM1398.03 293.74L1400.09 295.99L1397.1 296.66ZM1375.27 377.44L1377.44 379.88L1374.24 380.54ZM1423.41 319.34L1424.57 316.58L1426.38 318.96ZM1395.41 290.8L1392.3 291.35L1393.38 288.38ZM1409.97 398.5L1406.9 399.47L1407.6 396.33ZM1420.7 386.18L1425.39 387.06L1422.28 390.69Z" stroke-width="0.8"/>
<path d="M1269.31 332.19L1310.19 291.31M1269.38 356.12L1322 303.5M1276.47 373.03L1322 327.5M1287.75 385.75L1322 351.5M1302.97 394.53L1322 375.5" stroke-width="0.7"/>
<path d="M1318.5 286.6L1318.5 268.75L1525.5 268.75L1525.5 312L1471.25 312L1471.25 420.7L1362.4 420.7L1362.4 620" stroke-width="1"/>
<path d="M1322 272.5L1522 272.5L1522 308L1467.5 308" stroke-width="1.4" shape-rendering="geometricPrecision"/>
<path d="M1467.5 308L1522 272.5" stroke-width="1"/>
<path d="M1322 272.5L1322 562.4" stroke-width="2"/>
<path d="M1467.5 272.5L1467.5 417.3" stroke-width="2"/>
<path d="M1322 417.3L1467.5 417.3" stroke-width="1.1" shape-rendering="geometricPrecision"/>
<path d="M1322 290A54 54 0 0 0 1322 398" stroke-width="1.1"/>
<path d="M1318.5 286.6A57.5 57.5 0 0 0 1318.5 401.4" stroke-width="1.1"/>
<path d="M1318.4 401.4L1318.4 620" stroke-width="1"/>
<path d="M1322 344L1287.3 298" stroke-width="1"/>
<path d="M1284.3 297.3L1290.3 298.7" stroke-width="1"/>
<g transform="translate(1248.4 252.4) rotate(52)" stroke-width="1.05" stroke-linejoin="round" shape-rendering="geometricPrecision"><use href="#g82" x="0" y="-12"/><use href="#g61" x="11.8" y="-12"/><use href="#g51" x="22.8" y="-12"/><use href="#g48" x="34.6" y="-12"/><use href="#g48" x="43.8" y="-12"/></g>
<path d="M1358.5 417.3L1358.5 562.4" stroke-width="1"/>
<path d="M1322 481L1358.5 418.3" stroke-width="1"/>
<path d="M1322 481L1358.5 481" stroke-width="1"/>
<path d="M1322 544L1358.5 482.5" stroke-width="1"/>
<path d="M1322 544L1358.5 544" stroke-width="1"/>
<path d="M1321 562.4L1359 562.4" stroke-width="2"/>
<path d="M1331.7 562.4L1349.3 544" stroke-width="1"/>
<path d="M1318.4 565L1362.4 565" stroke-width="1"/>
<path d="M1331.4 574.75L1331.4 591.3" stroke-width="1"/>
<path d="M1350 574.75L1350 591.3" stroke-width="1"/>
<path d="M1263 192L1471.5 192" stroke-width="1"/>
<path d="M1263 196L1271 188" stroke-width="1"/>
<path d="M1267 187.5L1267 238.75" stroke-width="1"/>
<path d="M1318 196L1326 188" stroke-width="1"/>
<path d="M1322 187.5L1322 238.75" stroke-width="1"/>
<path d="M1354 196L1362 188" stroke-width="1"/>
<path d="M1358 187.5L1358 238.75" stroke-width="1"/>
<path d="M1391 196L1399 188" stroke-width="1"/>
<path d="M1463.5 196L1471.5 188" stroke-width="1"/>
<path d="M1467.5 187.5L1467.5 268.75" stroke-width="1"/>
<g transform="translate(1280.5 189.6)" stroke-width="1.05" stroke-linejoin="round"><use href="#g51" x="0" y="-12"/><use href="#g48" x="11.8" y="-12"/><use href="#g48" x="21" y="-12"/></g>
<g transform="translate(1323.75 178)" stroke-width="1.05" stroke-linejoin="round"><use href="#g50" x="0" y="-12"/><use href="#g48" x="11.6" y="-12"/><use href="#g48" x="20.8" y="-12"/></g>
<g transform="translate(1363 183.5)" stroke-width="1.05" stroke-linejoin="round"><use href="#g50" x="0" y="-12"/><use href="#g48" x="11.6" y="-12"/><use href="#g48" x="20.8" y="-12"/></g>
<g transform="translate(1417.5 189.6)" stroke-width="1.05" stroke-linejoin="round"><use href="#g52" x="0" y="-12"/><use href="#g48" x="12.3" y="-12"/><use href="#g48" x="21.5" y="-12"/></g>
<path d="M1215.5 268L1215.5 566" stroke-width="1"/>
<path d="M1211.5 268.4L1219.5 276.4" stroke-width="1"/>
<path d="M1211.5 272.4L1255.2 272.4" stroke-width="1"/>
<path d="M1211.5 413.3L1219.5 421.3" stroke-width="1"/>
<path d="M1211.5 417.3L1262 417.3" stroke-width="1"/>
<path d="M1211.5 431L1219.5 439" stroke-width="1"/>
<path d="M1211.5 435L1262 435" stroke-width="1"/>
<path d="M1211.5 540.5L1219.5 548.5" stroke-width="1"/>
<path d="M1211.5 544.5L1268.9 544.5" stroke-width="1"/>
<path d="M1211.5 558.2L1219.5 566.2" stroke-width="1"/>
<path d="M1211.5 562.2L1268.9 562.2" stroke-width="1"/>
<g transform="translate(1210 344.4) rotate(-90)" stroke-width="1.05" stroke-linejoin="round"><use href="#g56" x="0" y="-12"/><use href="#g48" x="11.7" y="-12"/><use href="#g48" x="20.9" y="-12"/></g>
<g transform="translate(1207.3 438.5) rotate(-90)" stroke-width="1.05" stroke-linejoin="round"><use href="#g49" x="0" y="-12"/><use href="#g48" x="8.4" y="-12"/><use href="#g48" x="17.6" y="-12"/></g>
<g transform="translate(1213.4 524.8) rotate(-90)" stroke-width="1.05" stroke-linejoin="round"><use href="#g54" x="0" y="-12"/><use href="#g48" x="11.6" y="-12"/><use href="#g48" x="20.8" y="-12"/><use href="#g126" x="30" y="-12"/><use href="#g51" x="40" y="-12"/><use href="#g48" x="51.8" y="-12"/><use href="#g48" x="61" y="-12"/></g>
<g transform="translate(1207.3 565) rotate(-90)" stroke-width="1.05" stroke-linejoin="round"><use href="#g49" x="0" y="-12"/><use href="#g48" x="8.4" y="-12"/><use href="#g48" x="17.6" y="-12"/></g>
<circle cx="1561" cy="566.25" r="32" stroke-width="2.1"/>
<g transform="translate(1520 525) scale(0.0625)" stroke-width="17"><path d="M400 505L540 485L695 405L695 915M630 440L630 915M400 915L925 915"/></g>
<path d="M56.5 873.2L645.6 873.2" stroke-width="1"/>
<path d="M445.6 704L445.6 1128" stroke-width="1"/>
<circle cx="31.5" cy="873.2" r="25" stroke-width="1"/>
<circle cx="446" cy="1153" r="25" stroke-width="1"/>
<path d="M143.8 783.4L283.5 783.4" stroke-width="1"/>
<path d="M427.3 784.1L428 783.4M427.3 808.1L452 783.4M427.3 832.1L476 783.4M427.3 856.1L500 783.4M427.3 880.1L524 783.4M427.3 904.1L548 783.4M427.3 928.1L572 783.4M433.5 945.9L572.4 807M457.5 945.9L572.4 831M481.5 945.9L572.4 855M505.5 945.9L572.4 879M529.5 945.9L572.4 903M553.5 945.9L572.4 927" stroke-width="0.7"/>
<path d="M516 902.5h1M540 933.5h1M532 930.5h1M433 858.5h1M561 887.5h1M555 803.5h1M495 824.5h1M505 875.5h1M431 819.5h1M468 929.5h1M536 810.5h1M540 807.5h1M515 805.5h1M429 922.5h1M458 819.5h1M566 922.5h1M469 936.5h1M504 892.5h1M457 933.5h1M526 937.5h1M554 832.5h1M479 811.5h1M449 795.5h1M471 880.5h1M429 892.5h1M476 834.5h1M543 861.5h1M473 861.5h1M528 794.5h1M565 789.5h1M534 918.5h1M431 909.5h1M480 876.5h1M430 792.5h1M454 935.5h1M456 904.5h1M559 933.5h1M477 841.5h1M502 907.5h1M444 903.5h1M540 920.5h1M434 934.5h1M442 839.5h1M514 929.5h1M476 930.5h1M505 834.5h1M473 813.5h1M440 808.5h1M525 942.5h1M451 793.5h1M567 869.5h1M486 822.5h1M512 915.5h1M493 851.5h1M437 929.5h1M433 863.5h1M546 805.5h1M531 934.5h1M517 909.5h1M444 853.5h1M450 918.5h1M470 856.5h1M569 919.5h1M566 856.5h1M497 900.5h1M496 831.5h1M485 808.5h1M482 941.5h1M563 884.5h1M499 838.5h1M441 828.5h1M538 922.5h1M479 909.5h1M537 894.5h1M522 905.5h1M480 896.5h1M468 861.5h1M537 894.5h1M470 934.5h1M520 876.5h1M430 871.5h1M464 891.5h1M494 914.5h1M520 911.5h1M478 886.5h1M532 915.5h1M478 918.5h1M551 893.5h1M566 936.5h1M501 868.5h1M452 917.5h1M560 860.5h1M526 898.5h1M531 812.5h1M538 876.5h1M522 851.5h1M516 907.5h1M518 898.5h1M433 810.5h1M491 887.5h1M459 893.5h1M517 791.5h1M495 821.5h1M436 806.5h1M473 813.5h1M456 791.5h1M494 845.5h1M515 878.5h1M462 927.5h1M429 849.5h1M468 849.5h1M445 916.5h1M481 791.5h1M515 800.5h1M505 838.5h1M510 936.5h1M543 851.5h1M543 886.5h1M481 807.5h1M512 874.5h1M563 937.5h1M514 840.5h1M554 785.5h1M444 874.5h1M515 807.5h1M517 925.5h1M481 853.5h1M461 831.5h1M565 845.5h1M563 929.5h1M512 826.5h1M566 863.5h1M487 835.5h1M567 862.5h1M469 860.5h1M446 883.5h1M491 831.5h1M538 915.5h1M431 869.5h1M467 932.5h1M538 824.5h1M466 809.5h1M567 831.5h1M514 860.5h1M519 880.5h1M533 804.5h1M535 832.5h1M504 838.5h1M470 868.5h1M494 842.5h1M533 878.5h1M434 825.5h1M493 929.5h1M553 871.5h1M431 907.5h1M489 876.5h1M528 884.5h1M496 928.5h1M483 847.5h1M548 816.5h1M470 916.5h1M438 917.5h1M526 853.5h1M469 908.5h1M556 807.5h1M496 871.5h1M499 837.5h1M450 877.5h1M543 796.5h1M461 914.5h1M540 889.5h1M432 899.5h1M566 942.5h1M527 793.5h1M547 819.5h1M519 935.5h1M529 806.5h1M470 929.5h1M450 881.5h1M487 810.5h1M516 792.5h1M444 845.5h1M439 794.5h1M509 902.5h1M552 806.5h1M489 834.5h1M513 862.5h1M560 844.5h1M437 895.5h1M450 884.5h1M500 928.5h1M507 883.5h1M466 872.5h1M464 903.5h1M501 806.5h1M462 843.5h1M532 813.5h1M529 888.5h1M441 890.5h1M442 805.5h1M512 822.5h1M552 861.5h1M474 910.5h1M433 899.5h1M436 809.5h1M562 892.5h1M460 803.5h1M565 890.5h1M544 807.5h1M516 841.5h1M462 837.5h1M515 840.5h1M483 806.5h1M545 887.5h1M542 853.5h1M548 866.5h1M512 875.5h1M532 847.5h1M442 790.5h1M457 791.5h1M553 861.5h1M535 785.5h1M495 925.5h1M516 852.5h1M494 801.5h1M450 810.5h1M481 846.5h1M552 809.5h1M464 829.5h1M451 830.5h1M462 861.5h1M433 931.5h1M480 933.5h1M525 891.5h1M495 934.5h1M445 890.5h1M470 891.5h1M531 811.5h1M457 789.5h1M461 797.5h1M485 938.5h1M480 834.5h1M494 829.5h1M531 898.5h1M452 823.5h1M523 933.5h1M519 853.5h1M565 786.5h1M437 908.5h1M486 792.5h1M506 941.5h1M502 840.5h1M442 796.5h1M555 862.5h1M560 793.5h1M463 793.5h1M484 794.5h1M465 849.5h1M472 793.5h1M434 938.5h1M454 865.5h1M485 869.5h1M441 834.5h1M444 870.5h1M558 879.5h1M549 819.5h1M431 870.5h1M497 875.5h1M482 883.5h1M530 929.5h1M472 856.5h1M545 820.5h1M445 834.5h1M441 907.5h1M544 834.5h1M447 798.5h1M463 798.5h1" stroke-width="1" stroke="#111" shape-rendering="crispEdges"/>
<path d="M491.82 877.26L488.57 877.71L489.81 874.67ZM526.94 796.61L526 793.57L529.11 794.28ZM481.72 804.56L481.27 800.94L484.63 802.36ZM532.92 871.11L537.11 873.1L533.3 875.73ZM536.32 874.25L536.71 877.92L533.34 876.42ZM520.41 932.55L523.58 935.44L519.5 936.74ZM469.41 914.37L466 913.33L468.6 910.89ZM439.48 811.86L442.25 813.67L439.29 815.17ZM468.09 796.33L472.39 795.61L470.86 799.7ZM433.97 796.6L434.42 793.59L436.8 795.48ZM549.46 936.37L547.03 933.14L551.05 932.65ZM492.09 843.55L488.97 845.04L489.24 841.59ZM513.47 916.55L509.2 916.23L511.61 912.69ZM501.69 814.67L504.45 811.44L505.87 815.44ZM559.26 911.78L558.95 908.78L561.71 910.01ZM554.77 859.39L557.07 856.53L558.4 859.95ZM538.72 931.63L535.8 934.18L535.05 930.37ZM510.76 804.65L513.05 800.82L515.23 804.72ZM437.02 937.74L439.86 937.62L438.54 940.14ZM497.83 925.66L495.41 923.01L498.91 922.24ZM467.87 820.26L468.45 816.36L471.53 818.81ZM534.3 826.74L532.51 823.73L536.01 823.69ZM564.06 915.45L568.49 916.42L565.43 919.77ZM483.66 809.67L487.41 807.17L487.7 811.66ZM436.12 811.91L438.11 814.13L435.19 814.74ZM553.57 820.48L553.31 816.06L557.27 818.04ZM525.65 918.52L526.5 922.5L522.63 921.24ZM481.01 787.81L484.85 787.89L482.87 791.17ZM458.58 847.85L455.36 849.04L455.94 845.66ZM473.45 844.47L476.2 847.04L472.6 848.14ZM488.3 937.99L485.91 941.76L483.84 937.8ZM526.95 888.8L527.8 892.59L524.09 891.43ZM478.65 878.77L482.52 877.2L481.95 881.34ZM469.21 800.75L469.62 797.83L471.95 799.65ZM510.02 907.06L509.3 902.87L513.29 904.35ZM560.9 830.9L556.66 831.2L558.51 827.37ZM536.78 889.24L534.94 893.63L532.06 889.84ZM523.67 915.32L527.91 916.05L525.16 919.36ZM460.1 869.9L457.51 866.06L462.14 865.73ZM567 871.48L563.86 873.22L563.92 869.63ZM486.71 813.51L485.06 817.29L482.61 813.97ZM557.68 883.49L554.16 882.92L556.41 880.15Z" stroke-width="0.8"/>
<path d="M170.6 783.4L170.6 949.3L351.7 949.3L351.7 1022.4L540.1 1022.4L540.1 949.3L623.8 949.3L623.8 968.3L691.3 968.3" stroke-width="1"/>
<path d="M213.1 783.4L213.1 906.6L423.4 906.6L423.4 779.4L576.7 779.4L576.7 906.5L691.3 906.5" stroke-width="1"/>
<path d="M173.8 783.4L173.8 945.9" stroke-width="1.2" shape-rendering="geometricPrecision"/>
<path d="M173.8 945.9L626.4 945.9" stroke-width="1.2" shape-rendering="geometricPrecision"/>
<path d="M209.2 783.4L209.2 910.2" stroke-width="1.2" shape-rendering="geometricPrecision"/>
<path d="M173.8 910.2L209.2 910.2" stroke-width="1"/>
<path d="M208.5 910.2L427.3 910.2" stroke-width="2"/>
<path d="M427.3 783.4L572.4 783.4" stroke-width="1.5" shape-rendering="geometricPrecision"/>
<path d="M427.3 782.8L427.3 945.9" stroke-width="2"/>
<path d="M572.4 782.8L572.4 945.9" stroke-width="2"/>
<path d="M173.8 845.9L209.2 784.4" stroke-width="1"/>
<path d="M173.8 908.4L209.2 846.7" stroke-width="1"/>
<path d="M237.5 910.2L237.5 945.9" stroke-width="1"/>
<path d="M300.5 910.2L300.5 945.9" stroke-width="1"/>
<path d="M364.3 910.2L364.3 945.9" stroke-width="1"/>
<path d="M173.8 945.9L237.5 911" stroke-width="1"/>
<path d="M237.5 945.9L300.5 911" stroke-width="1"/>
<path d="M300.5 945.9L364.3 911" stroke-width="1"/>
<path d="M364.3 945.9L426.5 911.5" stroke-width="1"/>
<path d="M354.75 945.9L354.75 1018.5" stroke-width="1.3" shape-rendering="geometricPrecision"/>
<path d="M536.7 945.9L536.7 1018.5" stroke-width="1.3" shape-rendering="geometricPrecision"/>
<path d="M354 1018.5L537.4 1018.5" stroke-width="2"/>
<path d="M372.75 1000.8L372.75 1018.5" stroke-width="1"/>
<path d="M517.6 1000.8L517.6 1018.5" stroke-width="1"/>
<path d="M372.75 945.9L372.75 1000.8L517.6 1000.8L517.6 945.9" stroke-width="2"/>
<path d="M354.75 982.5L372.75 982.5" stroke-width="1"/>
<path d="M517.6 982.5L536.7 982.5" stroke-width="1"/>
<path d="M354.75 982.5L372.75 947" stroke-width="1"/>
<path d="M354.75 1018.5L372.75 984" stroke-width="1"/>
<path d="M517.6 982.5L536.7 947" stroke-width="1"/>
<path d="M517.6 1018.5L536.7 984" stroke-width="1"/>
<path d="M409.6 1000.8L409.6 1018.5" stroke-width="1"/>
<path d="M481.3 1000.8L481.3 1018.5" stroke-width="1"/>
<path d="M372.75 1018.5L409.6 1001.5" stroke-width="1"/>
<path d="M409.6 1018.5L445.6 1001.5" stroke-width="1"/>
<path d="M445.6 1018.5L481.3 1001.5" stroke-width="1"/>
<path d="M481.3 1018.5L517.6 1001.5" stroke-width="1"/>
<path d="M572.4 909.9L645.3 909.9L645.3 964.6L626.4 964.6" stroke-width="2"/>
<path d="M626.4 909.9L626.4 964.6" stroke-width="1.2" shape-rendering="geometricPrecision"/>
<path d="M577.9 942.9L624 910.6" stroke-width="1"/>
<path d="M626.4 921.6L638.4 910.6" stroke-width="1"/>
<path d="M626.4 945.6L645.3 931.2" stroke-width="1"/>
<path d="M635 964.6L645.3 956" stroke-width="1"/>
<path d="M648.4 906.5L648.4 928.5" stroke-width="1"/>
<path d="M648.4 946.3L648.4 968.3" stroke-width="1"/>
<path d="M645.3 928.5L670.7 928.5" stroke-width="1"/>
<path d="M670.7 937.4L653.5 937.4" stroke-width="1"/>
<path d="M653.5 928.5L653.5 946.3L670.7 946.3" stroke-width="1"/>
<path d="M691.5 885L691.5 999.3" stroke-width="1"/>
<path d="M728.9 906L728.9 986.2" stroke-width="1"/>
<path d="M724.9 905.5L732.9 913.5" stroke-width="1"/>
<path d="M698.2 909.5L733.5 909.5" stroke-width="1"/>
<path d="M724.9 942L732.9 950" stroke-width="1"/>
<path d="M698.2 946L733.5 946" stroke-width="1"/>
<path d="M724.9 960.6L732.9 968.6" stroke-width="1"/>
<path d="M698.2 964.6L733.5 964.6" stroke-width="1"/>
<path d="M724.9 978.8L732.9 986.8" stroke-width="1"/>
<path d="M698.2 982.8L733.5 982.8" stroke-width="1"/>
<g transform="translate(726.4 939.4) rotate(-90)" stroke-width="1.05" stroke-linejoin="round"><use href="#g50" x="0" y="-12"/><use href="#g48" x="11.6" y="-12"/><use href="#g48" x="20.8" y="-12"/></g>
<g transform="translate(750.4 965.6) rotate(-90)" stroke-width="1.05" stroke-linejoin="round"><use href="#g49" x="0" y="-12"/><use href="#g48" x="8.4" y="-12"/><use href="#g48" x="17.6" y="-12"/></g>
<g transform="translate(727 989.6) rotate(-90)" stroke-width="1.05" stroke-linejoin="round"><use href="#g49" x="0" y="-12"/><use href="#g48" x="8.4" y="-12"/><use href="#g48" x="17.6" y="-12"/></g>
<path d="M578.3 942.5L578.3 1021.5" stroke-width="1"/>
<path d="M574.3 942L582.3 950" stroke-width="1"/>
<path d="M574.3 996L582.3 1004" stroke-width="1"/>
<path d="M544.3 1000L583 1000" stroke-width="1"/>
<path d="M574.3 1014.5L582.3 1022.5" stroke-width="1"/>
<path d="M544.3 1018.5L583 1018.5" stroke-width="1"/>
<g transform="translate(577.2 986.9) rotate(-90)" stroke-width="1.05" stroke-linejoin="round"><use href="#g51" x="0" y="-12"/><use href="#g48" x="11.8" y="-12"/><use href="#g48" x="21" y="-12"/></g>
<g transform="translate(599.2 1022) rotate(-90)" stroke-width="1.05" stroke-linejoin="round"><use href="#g49" x="0" y="-12"/><use href="#g48" x="8.4" y="-12"/><use href="#g48" x="17.6" y="-12"/></g>
<path d="M423 725.4L577 725.4" stroke-width="1"/>
<path d="M423.3 729.4L431.3 721.4" stroke-width="1"/>
<path d="M427.3 720.5L427.3 766" stroke-width="1"/>
<path d="M568.4 729.4L576.4 721.4" stroke-width="1"/>
<path d="M572.4 720.5L572.4 766" stroke-width="1"/>
<path d="M441.6 729.4L449.6 721.4" stroke-width="1"/>
<g transform="translate(424.2 718.5)" stroke-width="1.05" stroke-linejoin="round"><use href="#g49" x="0" y="-12"/><use href="#g48" x="8.4" y="-12"/><use href="#g48" x="17.6" y="-12"/></g>
<g transform="translate(495 724)" stroke-width="1.05" stroke-linejoin="round"><use href="#g55" x="0" y="-12"/><use href="#g48" x="12" y="-12"/><use href="#g48" x="21.2" y="-12"/></g>
<path d="M169 1059.5L649.5 1059.5" stroke-width="1"/>
<path d="M169.4 1063.5L177.4 1055.5" stroke-width="1"/>
<path d="M173.4 1022L173.4 1064" stroke-width="1"/>
<path d="M350.8 1063.5L358.8 1055.5" stroke-width="1"/>
<path d="M354.8 1040.4L354.8 1064" stroke-width="1"/>
<path d="M369.1 1063.5L377.1 1055.5" stroke-width="1"/>
<path d="M373.1 1040.4L373.1 1064" stroke-width="1"/>
<path d="M514.5 1063.5L522.5 1055.5" stroke-width="1"/>
<path d="M518.5 1040.4L518.5 1064" stroke-width="1"/>
<path d="M532.7 1063.5L540.7 1055.5" stroke-width="1"/>
<path d="M536.7 1040.4L536.7 1064" stroke-width="1"/>
<path d="M622.8 1063.5L630.8 1055.5" stroke-width="1"/>
<path d="M626.8 1036L626.8 1064" stroke-width="1"/>
<path d="M642 1063.5L650 1055.5" stroke-width="1"/>
<path d="M646 1036L646 1064" stroke-width="1"/>
<path d="M441.6 1063.5L449.6 1055.5" stroke-width="1"/>
<g transform="translate(245.6 1057.4)" stroke-width="1.05" stroke-linejoin="round"><use href="#g50" x="0" y="-12"/><use href="#g48" x="11.6" y="-12"/><use href="#g48" x="20.8" y="-12"/><use href="#g48" x="30" y="-12"/></g>
<g transform="translate(396.5 1057.4)" stroke-width="1.05" stroke-linejoin="round"><use href="#g52" x="0" y="-12"/><use href="#g48" x="12.3" y="-12"/><use href="#g48" x="21.5" y="-12"/></g>
<g transform="translate(468.7 1057.4)" stroke-width="1.05" stroke-linejoin="round"><use href="#g52" x="0" y="-12"/><use href="#g48" x="12.3" y="-12"/><use href="#g48" x="21.5" y="-12"/></g>
<g transform="translate(567.8 1057.4)" stroke-width="1.05" stroke-linejoin="round"><use href="#g53" x="0" y="-12"/><use href="#g48" x="11.8" y="-12"/><use href="#g48" x="21" y="-12"/></g>
<g transform="translate(351 1079.5)" stroke-width="1.05" stroke-linejoin="round"><use href="#g49" x="0" y="-12"/><use href="#g48" x="8.4" y="-12"/><use href="#g48" x="17.6" y="-12"/></g>
<g transform="translate(514.2 1079.5)" stroke-width="1.05" stroke-linejoin="round"><use href="#g49" x="0" y="-12"/><use href="#g48" x="8.4" y="-12"/><use href="#g48" x="17.6" y="-12"/></g>
<g transform="translate(623 1079.5)" stroke-width="1.05" stroke-linejoin="round"><use href="#g49" x="0" y="-12"/><use href="#g48" x="8.4" y="-12"/><use href="#g48" x="17.6" y="-12"/></g>
<circle cx="774" cy="1102.3" r="32" stroke-width="2.1"/>
<g transform="translate(734 1062) scale(0.0625)" stroke-width="17"><path d="M845 385L465 385L390 645L480 590L590 562L700 565L800 605L880 660L908 730L880 820L820 870L720 905L530 905L465 885L385 800L430 765L470 790L440 812"/><path d="M470 410L690 410L845 390M860 650L882 730L850 842"/></g>
<path d="M968.4 873.5L1493.75 873.5" stroke-width="1"/>
<path d="M1294.5 704.5L1294.5 1068.3" stroke-width="1"/>
<circle cx="943.6" cy="873.4" r="25" stroke-width="1"/>
<circle cx="1293.8" cy="1093.25" r="25" stroke-width="1"/>
<path d="M977.3 783.4L1105.3 783.4" stroke-width="1"/>
<path d="M1275.75 797.5L1290.25 783M1275.75 821.5L1314.25 783M1275.75 845.5L1338.25 783M1275.75 869.5L1362.25 783M1275.75 893.5L1386.25 783M1275.75 917.5L1410.25 783M1275.75 941.5L1421.25 796M1295 946.25L1421.25 820M1319 946.25L1421.25 844M1343 946.25L1421.25 868M1367 946.25L1421.25 892M1391 946.25L1421.25 916M1415 946.25L1421.25 940" stroke-width="0.7"/>
<path d="M1310 801.5h1M1333 809.5h1M1287 848.5h1M1406 911.5h1M1385 820.5h1M1353 828.5h1M1302 801.5h1M1307 931.5h1M1394 912.5h1M1390 815.5h1M1321 884.5h1M1380 920.5h1M1401 798.5h1M1362 891.5h1M1348 813.5h1M1344 799.5h1M1409 921.5h1M1354 832.5h1M1405 875.5h1M1401 919.5h1M1349 850.5h1M1361 853.5h1M1300 833.5h1M1391 791.5h1M1284 884.5h1M1317 869.5h1M1343 839.5h1M1417 815.5h1M1335 817.5h1M1366 828.5h1M1327 903.5h1M1322 873.5h1M1404 800.5h1M1286 821.5h1M1385 882.5h1M1311 837.5h1M1302 857.5h1M1283 895.5h1M1403 936.5h1M1381 936.5h1M1280 830.5h1M1413 907.5h1M1335 934.5h1M1364 914.5h1M1318 815.5h1M1340 806.5h1M1331 937.5h1M1324 786.5h1M1284 811.5h1M1387 842.5h1M1318 800.5h1M1415 852.5h1M1306 794.5h1M1285 811.5h1M1372 808.5h1M1283 862.5h1M1312 942.5h1M1294 868.5h1M1386 849.5h1M1416 860.5h1M1311 849.5h1M1282 851.5h1M1312 925.5h1M1394 863.5h1M1282 825.5h1M1311 817.5h1M1310 922.5h1M1297 793.5h1M1408 874.5h1M1416 848.5h1M1404 888.5h1M1388 902.5h1M1347 799.5h1M1307 923.5h1M1404 931.5h1M1325 888.5h1M1390 886.5h1M1392 868.5h1M1369 893.5h1M1315 931.5h1M1412 796.5h1M1414 937.5h1M1371 792.5h1M1404 805.5h1M1413 890.5h1M1286 811.5h1M1366 875.5h1M1382 931.5h1M1308 785.5h1M1407 787.5h1M1400 803.5h1M1391 908.5h1M1401 872.5h1M1401 816.5h1M1372 837.5h1M1403 907.5h1M1343 868.5h1M1281 790.5h1M1361 862.5h1M1399 881.5h1M1297 842.5h1M1385 867.5h1M1279 917.5h1M1394 798.5h1M1354 845.5h1M1388 834.5h1M1310 862.5h1M1413 800.5h1M1293 883.5h1M1402 866.5h1M1338 920.5h1M1386 795.5h1M1401 815.5h1M1320 917.5h1M1337 911.5h1M1301 923.5h1M1302 808.5h1M1347 838.5h1M1353 928.5h1M1377 785.5h1M1321 871.5h1M1346 898.5h1M1345 796.5h1M1312 919.5h1M1327 906.5h1M1416 884.5h1M1372 881.5h1M1321 929.5h1M1343 929.5h1M1320 922.5h1M1388 882.5h1M1339 807.5h1M1386 842.5h1M1370 806.5h1M1289 807.5h1M1391 813.5h1M1404 843.5h1M1358 840.5h1M1364 799.5h1M1334 933.5h1M1302 888.5h1M1323 832.5h1M1281 788.5h1M1411 916.5h1M1390 912.5h1M1411 810.5h1M1359 863.5h1M1358 933.5h1M1384 938.5h1M1294 888.5h1M1372 902.5h1M1364 916.5h1M1320 931.5h1M1334 879.5h1M1403 896.5h1M1321 821.5h1M1323 884.5h1M1417 927.5h1M1333 848.5h1M1392 829.5h1M1335 787.5h1M1303 870.5h1M1375 882.5h1M1328 935.5h1M1365 809.5h1M1287 939.5h1M1416 930.5h1M1362 834.5h1M1290 825.5h1M1308 931.5h1M1403 908.5h1M1298 822.5h1M1319 935.5h1M1300 910.5h1M1373 871.5h1M1412 826.5h1M1351 809.5h1M1291 790.5h1M1322 804.5h1M1286 942.5h1M1318 925.5h1M1376 900.5h1M1369 935.5h1M1401 898.5h1M1356 894.5h1M1379 872.5h1M1348 809.5h1M1396 861.5h1M1287 811.5h1M1400 825.5h1M1332 892.5h1M1398 836.5h1M1332 851.5h1M1281 923.5h1M1280 936.5h1M1299 809.5h1M1396 915.5h1M1310 872.5h1M1344 898.5h1M1303 915.5h1M1417 896.5h1M1407 933.5h1M1331 919.5h1M1394 877.5h1M1292 882.5h1M1405 833.5h1M1368 926.5h1M1362 790.5h1M1366 825.5h1M1398 889.5h1M1320 926.5h1M1365 838.5h1M1394 926.5h1M1403 924.5h1M1370 895.5h1M1362 868.5h1M1416 840.5h1M1289 897.5h1M1347 871.5h1M1361 824.5h1M1305 796.5h1M1387 928.5h1M1375 803.5h1M1415 915.5h1M1349 785.5h1M1396 883.5h1M1365 787.5h1M1380 790.5h1M1344 807.5h1M1328 925.5h1M1382 914.5h1M1319 846.5h1M1362 790.5h1M1335 939.5h1M1383 921.5h1M1319 894.5h1M1388 896.5h1M1339 812.5h1M1280 925.5h1M1408 828.5h1M1383 849.5h1M1365 918.5h1M1322 883.5h1M1313 865.5h1M1281 826.5h1M1318 929.5h1M1296 904.5h1M1289 941.5h1M1301 799.5h1M1307 932.5h1M1371 925.5h1M1347 803.5h1M1325 857.5h1M1416 811.5h1M1312 918.5h1M1293 938.5h1M1319 874.5h1M1370 928.5h1M1288 919.5h1M1302 898.5h1M1281 906.5h1M1303 817.5h1M1282 836.5h1M1323 940.5h1M1363 842.5h1M1416 812.5h1M1307 936.5h1M1411 893.5h1M1415 794.5h1M1404 896.5h1M1371 918.5h1M1292 816.5h1M1297 860.5h1M1354 870.5h1M1328 902.5h1M1395 905.5h1M1283 809.5h1M1308 822.5h1M1358 815.5h1" stroke-width="1" stroke="#111" shape-rendering="crispEdges"/>
<path d="M1365.11 838.45L1367.61 840.94L1364.21 841.86ZM1411.6 816.36L1408.81 818.45L1408.39 814.98ZM1309.81 789.55L1309.98 792.72L1307.16 791.28ZM1382.43 933.26L1378.75 934.25L1379.73 930.57ZM1323.18 900.25L1319.82 899.01L1322.57 896.71ZM1329.5 859.67L1331.78 857L1332.95 860.32ZM1298.2 789.1L1300.82 792.63L1296.45 793.13ZM1335.46 804.14L1338.8 803.6L1337.59 806.77ZM1400.04 861.31L1404.53 859.64L1403.73 864.37ZM1302.77 881.14L1306.76 881.53L1304.43 884.8ZM1380.04 788.53L1380.81 792.13L1377.31 791ZM1298.36 795.4L1297.42 792.39L1300.5 793.09ZM1340.72 837.88L1337.22 835.76L1340.8 833.79ZM1329.44 891.33L1326.68 894.09L1325.66 890.32ZM1406.53 826.59L1409.85 825.6L1409.05 828.97ZM1355.43 846.28L1351.97 843.3L1356.28 841.8ZM1342.34 804.04L1346.93 804.39L1344.34 808.19ZM1413.55 807.84L1417.78 808.19L1415.36 811.69ZM1289.14 915.59L1284.55 915.68L1286.77 911.66ZM1407 908.24L1410.9 907.24L1409.81 911.12ZM1317.37 794.27L1316.62 797.95L1313.81 795.46ZM1307.8 858.55L1310.42 860.64L1307.29 861.87ZM1410.01 925.84L1411.7 922.92L1413.39 925.84ZM1281.58 867.01L1281.27 871.54L1277.5 869ZM1288.15 855.06L1289.74 852.59L1291.08 855.2ZM1407.78 830.28L1404.65 833.56L1403.38 829.21ZM1394.67 817.09L1392.18 821.05L1389.99 816.92ZM1416.64 790.19L1415.92 787.51L1418.6 788.22ZM1349.84 851.52L1352.62 852.55L1350.33 854.44ZM1369.46 884.19L1373.2 883.37L1372.04 887.02ZM1376 798.6L1372.51 797.42L1375.28 795ZM1293 906.99L1293.12 903.54L1296.04 905.37ZM1316.75 876.82L1319.57 877.89L1317.23 879.8ZM1289.62 933.52L1290.87 936.35L1287.79 936.02ZM1353.48 854.49L1354.03 851.13L1356.66 853.29ZM1384.13 870.71L1382.13 867.38L1386.02 867.31ZM1364.4 811.71L1367.83 813.27L1364.77 815.47ZM1355.37 879.28L1352.33 876.75L1356.04 875.38ZM1413.8 892.47L1410.85 895.57L1409.64 891.46ZM1341.06 840.45L1340.69 837.07L1343.81 838.44ZM1319.18 836.26L1321.78 834.39L1322.11 837.57ZM1318.96 846.4L1318.48 842.28L1322.29 843.93Z" stroke-width="0.8"/>
<path d="M1240.4 952.85L1247 946.25M1246.05 971.2L1271 946.25M1256.21 985.04L1295 946.25M1270.21 995.04L1319 946.25M1288.8 1000.45L1343 946.25M1317.67 995.58L1343.83 969.42" stroke-width="0.7"/>
<path d="M1018.7 783.4L1018.7 949.3L1236.9 949.3" stroke-width="1"/>
<path d="M1352 949.3L1497.5 949.3L1497.5 907L1425 907L1425 779.5L1272.5 779.5L1272.5 906.8L1062.6 906.8L1062.6 783.4" stroke-width="1"/>
<path d="M1022.3 783.4L1022.3 945.9" stroke-width="1.2" shape-rendering="geometricPrecision"/>
<path d="M1022.3 946.1L1493.75 946.1" stroke-width="1.2" shape-rendering="geometricPrecision"/>
<path d="M1058 783.4L1058 910.2" stroke-width="1.2" shape-rendering="geometricPrecision"/>
<path d="M1022.3 908.8L1058 908.8" stroke-width="1"/>
<path d="M1057.3 910.2L1275.75 910.2" stroke-width="2"/>
<path d="M1275.75 783L1421.25 783" stroke-width="1.5" shape-rendering="geometricPrecision"/>
<path d="M1275.75 782.3L1275.75 946.25" stroke-width="2"/>
<path d="M1421.25 782.3L1421.25 946.25" stroke-width="2"/>
<path d="M1421.25 910L1493.75 910" stroke-width="2"/>
<path d="M1493.75 909L1493.75 946.25" stroke-width="2"/>
<path d="M1022.3 846.1L1058 846.1" stroke-width="1"/>
<path d="M1022.3 846.1L1058 784.5" stroke-width="1"/>
<path d="M1022.3 908.8L1058 847.5" stroke-width="1"/>
<path d="M1085 910.2L1085 945.9" stroke-width="1"/>
<path d="M1149.5 910.2L1149.5 945.9" stroke-width="1"/>
<path d="M1212.2 910.2L1212.2 945.9" stroke-width="1"/>
<path d="M1022.3 945.9L1085 911" stroke-width="1"/>
<path d="M1085 945.9L1149.5 911" stroke-width="1"/>
<path d="M1149.5 945.9L1212.2 911" stroke-width="1"/>
<path d="M1212.2 945.9L1275 911.2" stroke-width="1"/>
<path d="M1475.5 910L1475.5 946.25" stroke-width="1"/>
<path d="M1422.5 945.5L1472.5 911.5" stroke-width="1"/>
<path d="M1480.5 946.25L1493.75 912.5" stroke-width="1"/>
<path d="M1497.5 919.5L1518.75 919.5" stroke-width="1"/>
<path d="M1502.5 928L1518.75 928" stroke-width="1"/>
<path d="M1497.5 936.25L1518.75 936.25" stroke-width="1"/>
<path d="M1502.5 919.5L1502.5 936.25" stroke-width="1"/>
<path d="M1240 946.25A54.5 54.5 0 0 0 1349 946.25" stroke-width="1.1"/>
<path d="M1236.9 949.3L1236.9 950" stroke-width="1"/>
<path d="M1236.9 949.3A57.7 57.7 0 0 0 1352 949.3" stroke-width="1.1"/>
<path d="M1018 734.2L1062.5 734.2" stroke-width="1"/>
<path d="M1018.3 738.2L1026.3 730.2" stroke-width="1"/>
<path d="M1022.3 729.5L1022.3 752.4" stroke-width="1"/>
<path d="M1054 738.2L1062 730.2" stroke-width="1"/>
<path d="M1058 729.5L1058 752.4" stroke-width="1"/>
<g transform="translate(1027 732.75)" stroke-width="1.05" stroke-linejoin="round"><use href="#g50" x="0" y="-12"/><use href="#g48" x="11.6" y="-12"/><use href="#g48" x="20.8" y="-12"/></g>
<path d="M1199 779.5L1199 1004.5" stroke-width="1"/>
<path d="M1195 779.4L1203 787.4" stroke-width="1"/>
<path d="M1195 870L1203 878" stroke-width="1"/>
<path d="M1195 906.2L1203 914.2" stroke-width="1"/>
<path d="M1195 942.5L1203 950.5" stroke-width="1"/>
<path d="M1195 996.2L1203 1004.2" stroke-width="1"/>
<path d="M1195 783.4L1231.9 783.4" stroke-width="1"/>
<path d="M1195 1000.2L1235.5 1000.2" stroke-width="1"/>
<g transform="translate(1188.3 830.6) rotate(-90)" stroke-width="1.05" stroke-linejoin="round"><use href="#g53" x="0" y="-12"/><use href="#g48" x="11.8" y="-12"/><use href="#g48" x="21" y="-12"/></g>
<g transform="translate(1188.3 894.75) rotate(-90)" stroke-width="1.05" stroke-linejoin="round"><use href="#g50" x="0" y="-12"/><use href="#g48" x="11.6" y="-12"/><use href="#g48" x="20.8" y="-12"/></g>
<g transform="translate(1188.3 955.8) rotate(-90)" stroke-width="1.05" stroke-linejoin="round"><use href="#g50" x="0" y="-12"/><use href="#g48" x="11.6" y="-12"/><use href="#g48" x="20.8" y="-12"/></g>
<g transform="translate(1188.3 1005) rotate(-90)" stroke-width="1.05" stroke-linejoin="round"><use href="#g51" x="0" y="-12"/><use href="#g48" x="11.8" y="-12"/><use href="#g48" x="21" y="-12"/></g>
<path d="M1272 721.25L1425 721.25" stroke-width="1"/>
<path d="M1271.75 725.25L1279.75 717.25" stroke-width="1"/>
<path d="M1275.75 716.5L1275.75 771.25" stroke-width="1"/>
<path d="M1290.5 725.25L1298.5 717.25" stroke-width="1"/>
<path d="M1417.25 725.25L1425.25 717.25" stroke-width="1"/>
<path d="M1421.25 715L1421.25 770" stroke-width="1"/>
<g transform="translate(1261.25 718.4)" stroke-width="1.05" stroke-linejoin="round"><use href="#g49" x="0" y="-12"/><use href="#g48" x="8.4" y="-12"/><use href="#g48" x="17.6" y="-12"/></g>
<g transform="translate(1344 718.2)" stroke-width="1.05" stroke-linejoin="round"><use href="#g55" x="0" y="-12"/><use href="#g48" x="12" y="-12"/><use href="#g48" x="21.2" y="-12"/></g>
<path d="M1557 905.5L1557 950" stroke-width="1"/>
<path d="M1553 905.7L1561 913.7" stroke-width="1"/>
<path d="M1535 909.7L1560.5 909.7" stroke-width="1"/>
<path d="M1553 941.9L1561 949.9" stroke-width="1"/>
<path d="M1535 945.9L1560.5 945.9" stroke-width="1"/>
<g transform="translate(1554.5 940.75) rotate(-90)" stroke-width="1.05" stroke-linejoin="round"><use href="#g50" x="0" y="-12"/><use href="#g48" x="11.6" y="-12"/><use href="#g48" x="20.8" y="-12"/></g>
<path d="M1018 1040L1497 1040" stroke-width="1"/>
<path d="M1018.5 1044L1026.5 1036" stroke-width="1"/>
<path d="M1022.5 1004.4L1022.5 1044.5" stroke-width="1"/>
<path d="M1234.9 1044L1242.9 1036" stroke-width="1"/>
<path d="M1238.9 1004.4L1238.9 1044.5" stroke-width="1"/>
<path d="M1344 1044L1352 1036" stroke-width="1"/>
<path d="M1348 1004.4L1348 1044.5" stroke-width="1"/>
<path d="M1417.1 1044L1425.1 1036" stroke-width="1"/>
<path d="M1421.1 1004.4L1421.1 1044.5" stroke-width="1"/>
<path d="M1471.5 1044L1479.5 1036" stroke-width="1"/>
<path d="M1475.5 1004.4L1475.5 1044.5" stroke-width="1"/>
<path d="M1489.1 1044L1497.1 1036" stroke-width="1"/>
<path d="M1493.1 1004.4L1493.1 1044.5" stroke-width="1"/>
<path d="M1290.5 1044L1298.5 1036" stroke-width="1"/>
<g transform="translate(1112.5 1038)" stroke-width="1.05" stroke-linejoin="round"><use href="#g49" x="0" y="-12"/><use href="#g50" x="8.4" y="-12"/><use href="#g48" x="20" y="-12"/><use href="#g48" x="29.2" y="-12"/></g>
<g transform="translate(1253 1038)" stroke-width="1.05" stroke-linejoin="round"><use href="#g51" x="0" y="-12"/><use href="#g48" x="11.8" y="-12"/><use href="#g48" x="21" y="-12"/></g>
<g transform="translate(1308 1038)" stroke-width="1.05" stroke-linejoin="round"><use href="#g51" x="0" y="-12"/><use href="#g48" x="11.8" y="-12"/><use href="#g48" x="21" y="-12"/></g>
<g transform="translate(1371 1038)" stroke-width="1.05" stroke-linejoin="round"><use href="#g52" x="0" y="-12"/><use href="#g48" x="12.3" y="-12"/><use href="#g48" x="21.5" y="-12"/></g>
<g transform="translate(1435 1038)" stroke-width="1.05" stroke-linejoin="round"><use href="#g51" x="0" y="-12"/><use href="#g48" x="11.8" y="-12"/><use href="#g48" x="21" y="-12"/></g>
<g transform="translate(1497 1038)" stroke-width="1.05" stroke-linejoin="round"><use href="#g49" x="0" y="-12"/><use href="#g48" x="8.4" y="-12"/><use href="#g48" x="17.6" y="-12"/></g>
<circle cx="1471" cy="1113.25" r="32" stroke-width="2.1"/>
<g transform="translate(1430 1072) scale(0.0625)" stroke-width="17"><path d="M762 925L762 405L405 775L925 775M730 440L730 925"/></g>
</g>
<g transform="translate(1340 1140) scale(0.1625)" fill-rule="evenodd"><path d="M470 75L527 75L480 178L455 178L420 190L420 140ZM455 137L620 137L620 178L455 178ZM497 137L543 137L543 272L497 272ZM420 228L620 228L620 272L420 272ZM497 272L543 272L465 420L420 420ZM505 272L545 272L632 420L585 420ZM632 100L768 100L768 385L740 410L632 410ZM677 145L677 370L728 370L728 145ZM815 123L1165 123L1165 167L815 167ZM860 207L1120 207L1120 250L860 250ZM965 75L1008 75L1008 425L965 425ZM965 245L965 300L862 392L815 385ZM1008 245L1165 385L1120 392L1008 300Z" fill="#fff" stroke="#8a8a8a" stroke-width="12.5" stroke-linejoin="miter"/>
<path d="M470 75L527 75L480 178L455 178L420 190L420 140Z" fill="#fff"/><path d="M455 137L620 137L620 178L455 178Z" fill="#fff"/><path d="M497 137L543 137L543 272L497 272Z" fill="#fff"/><path d="M420 228L620 228L620 272L420 272Z" fill="#fff"/><path d="M497 272L543 272L465 420L420 420Z" fill="#fff"/><path d="M505 272L545 272L632 420L585 420Z" fill="#fff"/><path d="M632 100L768 100L768 385L740 410L632 410ZM677 145L677 370L728 370L728 145Z" fill="#fff"/><path d="M815 123L1165 123L1165 167L815 167Z" fill="#fff"/><path d="M860 207L1120 207L1120 250L860 250Z" fill="#fff"/><path d="M965 75L1008 75L1008 425L965 425Z" fill="#fff"/><path d="M965 245L965 300L862 392L815 385Z" fill="#fff"/><path d="M1008 245L1165 385L1120 392L1008 300Z" fill="#fff"/></g>
<g opacity="0.999"><text x="1361" y="1252.4" font-family="Liberation Sans, sans-serif" font-size="33.5" fill="#fff" stroke="#8e8e8e" stroke-width="2.6" stroke-linejoin="round" textLength="225" lengthAdjust="spacingAndGlyphs">ID: 1171124773</text><text x="1361" y="1252.4" font-family="Liberation Sans, sans-serif" font-size="33.5" fill="#fff" stroke="#fff" stroke-width="0.9" textLength="225" lengthAdjust="spacingAndGlyphs">ID: 1171124773</text></g>
</svg></body></html>
